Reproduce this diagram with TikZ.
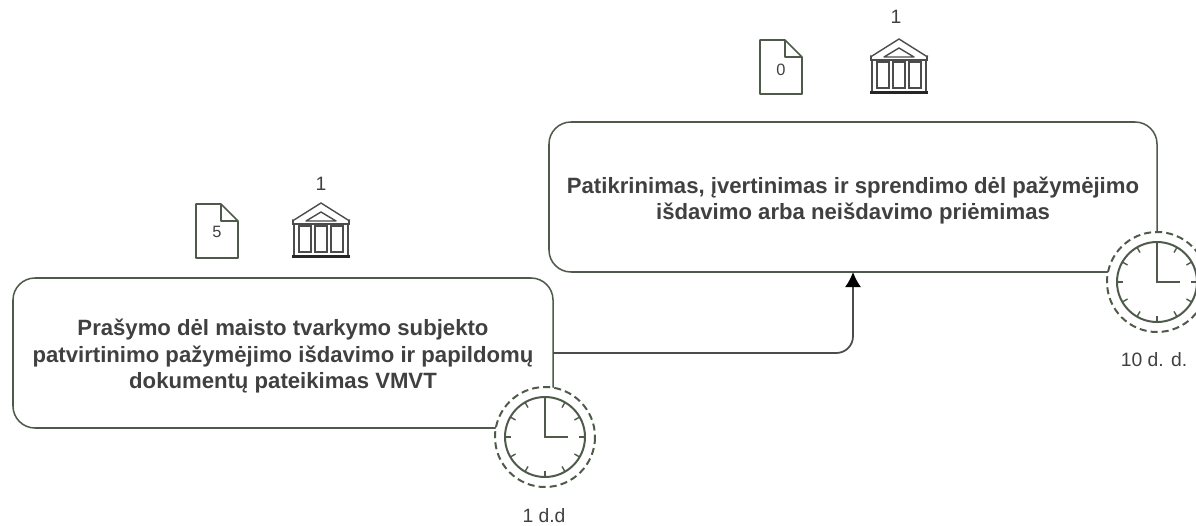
\documentclass[tikz,border=0pt]{standalone}
\usepackage{fontspec}
\setmainfont{Liberation Sans}
\usetikzlibrary{arrows.meta}

\definecolor{linegreen}{HTML}{4F5B4A}
\definecolor{textgray}{HTML}{404040}
\newcommand{\topstrut}{\rule{0pt}{20pt}}

\tikzset{
  stepbox/.style={draw=linegreen, line width=1.3pt, rounded corners=.66cm, inner sep=0, outer sep=0, align=center, text=textgray, font=\fontsize{18.9}{22.6}\selectfont\bfseries},
  lbl/.style={inner sep=0, text=textgray, font=\fontsize{16.5}{20}\selectfont},
  doclbl/.style={inner sep=0, text=textgray, font=\fontsize{14}{16}\selectfont},
  flow/.style={draw=black!70, line width=1.5pt, rounded corners=.5cm, -{Latex[length=13pt,width=14pt,color=black]}},
  clockicon/.pic={
    \fill[white] (0,0) circle (50);
    \draw[linegreen, line width=1.7pt, dash pattern=on 6pt off 3.5pt] (0,0) circle (50);
    \draw[linegreen, line width=1.7pt] (0,0) circle (40);
    \foreach \a in {0,30,...,330}
      \draw[linegreen, line width=1.2pt] (\a:40) -- (\a:34);
    \draw[linegreen, line width=1.7pt] (0,-40) -- (0,0) -- (23,0);
  },
  docicon/.pic={
    \draw[linegreen, line width=1.3pt, line join=round] (-21,-27) -- (4,-27) -- (21,-10) -- (21,27) -- (-21,27) -- cycle;
    \draw[linegreen, line width=1.3pt, line join=round] (4,-27) -- (4,-10) -- (21,-10);
  },
  bankicon/.pic={
    \draw[black!70, line width=1.2pt, line join=round] (-29,-10) -- (-27,-10) -- (0,-27) -- (27,-10) -- (29,-10);
    \draw[black!70, line width=1.2pt, line join=round] (-15,-9) -- (0,-18) -- (15,-9) -- cycle;
    \draw[black!70, line width=1.2pt] (-28,-10) -- (-28,-6) -- (28,-6) -- (28,-10);
    \foreach \x in {-22,-6,10}
      \draw[black!70, line width=1.2pt] (\x,-4) rectangle ++(12,26);
    \draw[black!70, line width=1.2pt] (-27,-6) -- (-27,26) (27,-6) -- (27,26);
    \draw[black!85, line width=2pt] (-29,26.5) -- (29,26.5);
  }
}

\begin{document}
\begin{tikzpicture}[x=.03cm, y=-.03cm]
\useasboundingbox (0,0) rectangle (1196,525);

\node[stepbox, minimum width=16.2cm, minimum height=4.5cm] (box1) at (283,353) {\topstrut Prašymo dėl maisto tvarkymo subjekto\\patvirtinimo pažymėjimo išdavimo ir papildomų\\dokumentų pateikimas VMVT};
\node[stepbox, minimum width=18.24cm, minimum height=4.5cm] (box2) at (853,197) {\topstrut Patikrinimas, įvertinimas ir sprendimo dėl pažymėjimo\\išdavimo arba neišdavimo priėmimas};

\draw[flow] (box1.east) -| (box2.south);

\pic at (545,437) {clockicon};
\pic at (1157,282) {clockicon};
\node[lbl] (time1) at (544,516) {1 d.d};
\node[lbl] (time2) at (1154,360) {10 d. d.};

\pic at (217,231) {docicon};
\node[doclbl] (doc1) at (217,232) {5};
\pic at (321,230) {bankicon};
\node[lbl] (inst1) at (321,184) {1};

\pic at (781,67) {docicon};
\node[doclbl] (doc2) at (781,70) {0};
\pic at (899,66) {bankicon};
\node[lbl] (inst2) at (896,17) {1};

\end{tikzpicture}
\end{document}
